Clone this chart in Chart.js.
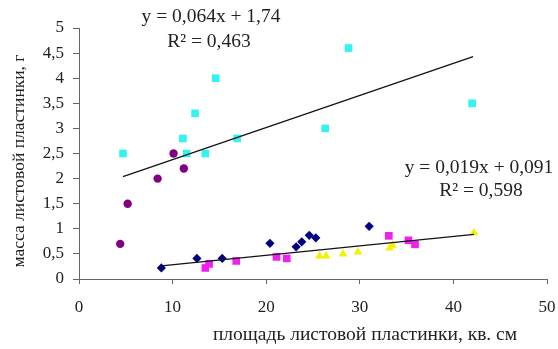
<!DOCTYPE html>
<html>
<head>
<meta charset="utf-8">
<script src="https://cdn.jsdelivr.net/npm/chart.js@4.4.1/dist/chart.umd.min.js"></script>
<style>
  html, body { margin: 0; padding: 0; background: #fff; }
  #wrap { width: 558px; height: 349px; }
</style>
</head>
<body>
<div id="wrap"><canvas id="chart"></canvas></div>
<script>
// values
const cyanX = [4.7, 11.1, 11.5, 12.4, 13.5, 14.6, 16.9, 26.3, 28.8, 42.0];
const cyanY = [2.5, 2.8, 2.5, 3.3, 2.5, 4.0, 2.8, 3.0, 4.6, 3.5];

const purpleX = [4.4, 5.2, 8.4, 10.1, 11.2];
const purpleY = [0.7, 1.5, 2.0, 2.5, 2.2];

const navyX = [8.8, 12.6, 15.3, 20.4, 23.2, 23.8, 24.6, 25.3, 31.0];
const navyY = [0.22, 0.41, 0.41, 0.71, 0.64, 0.74, 0.87, 0.82, 1.05];

const magentaX = [13.5, 13.9, 16.8, 21.1, 22.2, 33.1, 35.2, 35.9];
const magentaY = [0.22, 0.3, 0.36, 0.44, 0.41, 0.86, 0.77, 0.69];

const yellowX = [25.7, 26.4, 28.2, 29.8, 33.2, 33.5, 42.2];
const yellowY = [0.46, 0.46, 0.5, 0.54, 0.62, 0.67, 0.92];

// trend line end points
const trendTopX = [4.7, 42.1];
const trendTopY = [2.04, 4.43];
const trendLowX = [8.8, 42.2];
const trendLowY = [0.26, 0.89];

const xTicks = [0, 10, 20, 30, 40, 50];

const pts = (xs, ys) => xs.map((x, i) => ({ x: x, y: ys[i] }));
const comma = v => String(v).replace('.', ',');

const serif = '"Liberation Serif", "Times New Roman", serif';

const textPlugin = {
  id: 'texts',
  afterDraw(chart) {
    const ctx = chart.ctx;
    ctx.save();
    ctx.fillStyle = '#222';
    ctx.textBaseline = 'middle';
    ctx.textAlign = 'center';
    ctx.font = '19.5px ' + serif;
    ctx.fillText('y = 0,064x + 1,74', 211, 17);
    ctx.fillText('R² = 0,463', 209, 42);
    ctx.fillText('y = 0,019x + 0,091', 479, 168);
    ctx.fillText('R² = 0,598', 481, 191);

    ctx.fillText('площадь листовой пластинки, кв. см', 365, 335);
    ctx.font = '17.5px ' + serif;
    ctx.translate(19, 161);
    ctx.rotate(-Math.PI / 2);
    ctx.fillText('масса листовой пластинки, г', 0, 0);
    ctx.restore();
  }
};

const axisColor = '#666';

new Chart(document.getElementById('chart'), {
  type: 'scatter',
  data: {
    datasets: [
      { data: pts(trendTopX, trendTopY), type: 'line', showLine: true, borderColor: '#111', borderWidth: 1.2, pointRadius: 0, order: 0 },
      { data: pts(trendLowX, trendLowY), type: 'line', showLine: true, borderColor: '#111', borderWidth: 1.2, pointRadius: 0, order: 0 },
      { data: pts(cyanX, cyanY), pointStyle: 'rect', pointRadius: 5.4, backgroundColor: '#33F2F2', borderWidth: 0, order: 1 },
      { data: pts(purpleX, purpleY), pointStyle: 'circle', pointRadius: 4.2, backgroundColor: '#800080', borderWidth: 0, order: 1 },
      { data: pts(navyX, navyY), pointStyle: 'rectRot', pointRadius: 4.6, backgroundColor: '#000080', borderWidth: 0, order: 1 },
      { data: pts(magentaX, magentaY), pointStyle: 'rect', pointRadius: 5.4, backgroundColor: '#F020F0', borderWidth: 0, order: 1 },
      { data: pts(yellowX, yellowY), pointStyle: 'triangle', pointRadius: 5, backgroundColor: '#F2F200', borderWidth: 0, order: 1 }
    ]
  },
  options: {
    responsive: true,
    maintainAspectRatio: false,
    animation: false,
    layout: { padding: { top: 28, right: 11, left: 0, bottom: 0 } },
    plugins: { legend: { display: false }, tooltip: { enabled: false } },
    scales: {
      x: {
        type: 'linear',
        min: 0,
        max: 50,
        afterBuildTicks(scale) { scale.ticks = xTicks.map(v => ({ value: v })); },
        afterFit(scale) { scale.height = 70; scale.paddingRight = 0; scale.paddingLeft = 0; },
        ticks: { color: '#222', font: { family: serif, size: 17 }, padding: 13, maxRotation: 0 },
        grid: { drawOnChartArea: false, drawTicks: true, tickLength: 5, color: axisColor },
        border: { display: true, color: axisColor, width: 1 }
      },
      y: {
        min: 0,
        max: 5,
        afterFit(scale) { scale.width = 79; },
        ticks: { stepSize: 0.5, color: '#222', font: { family: serif, size: 17 }, padding: 9, callback: v => comma(v) },
        grid: { drawOnChartArea: false, drawTicks: true, tickLength: 6, color: axisColor },
        border: { display: true, color: axisColor, width: 1 }
      }
    }
  },
  plugins: [textPlugin]
});
</script>
</body>
</html>
